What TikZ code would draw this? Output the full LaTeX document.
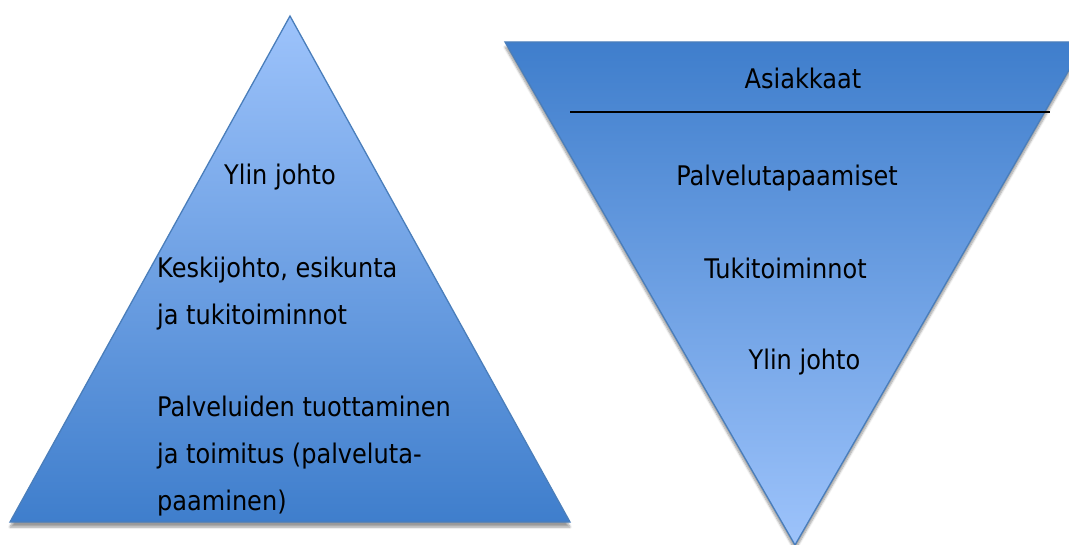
\documentclass[tikz,border=0pt]{standalone}
\usepackage{fontspec}
\setmainfont[FakeStretch=0.89]{DejaVu Sans}
\usetikzlibrary{shadows.blur}
\definecolor{lightb}{HTML}{9DC3FB}
\definecolor{darkb}{HTML}{3F7ECC}
\definecolor{edgeb}{HTML}{4A7EBB}
\begin{document}
\begin{tikzpicture}[x=1pt,y=-1pt,
  tri/.style={draw=edgeb, line width=1.3pt,
    blur shadow={shadow xshift=0pt,shadow yshift=-5pt,shadow blur steps=6,shadow opacity=40}},
  lbl/.style={font=\fontsize{27}{30}\selectfont, inner sep=0pt, text=black}]
\useasboundingbox (0,0) rectangle (1069,545);
\shade[tri, top color=lightb, bottom color=darkb] (290,16) -- (570,522) -- (10,522) -- cycle;
\shade[tri, top color=darkb, bottom color=lightb] (505,42) -- (1085,42) -- (795,545) -- cycle;
\node[lbl, anchor=base] (ylin1) at (280,185) {Ylin johto};
\node[lbl, anchor=base west] (kesk1) at (157,278) {Keskijohto, esikunta};
\node[lbl, anchor=base west] (kesk2) at (157,325) {ja tukitoiminnot};
\node[lbl, anchor=base west] (palv1) at (157,417) {Palveluiden tuottaminen};
\node[lbl, anchor=base west] (palv2) at (157,464) {ja toimitus (palveluta-};
\node[lbl, anchor=base west] (palv3) at (157,510) {paaminen)};
\node[lbl, anchor=base] (asiak) at (803,89) {Asiakkaat};
\coordinate (lineL) at (570,112);
\coordinate (lineR) at (1050,112);
\draw[line width=1.5pt] (lineL) -- (lineR);
\node[lbl, anchor=base] (ptap) at (787,186) {Palvelutapaamiset};
\node[lbl, anchor=base] (tuki) at (785.5,279) {Tukitoiminnot};
\node[lbl, anchor=base] (ylin2) at (804.5,370) {Ylin johto};
\end{tikzpicture}
\end{document}
